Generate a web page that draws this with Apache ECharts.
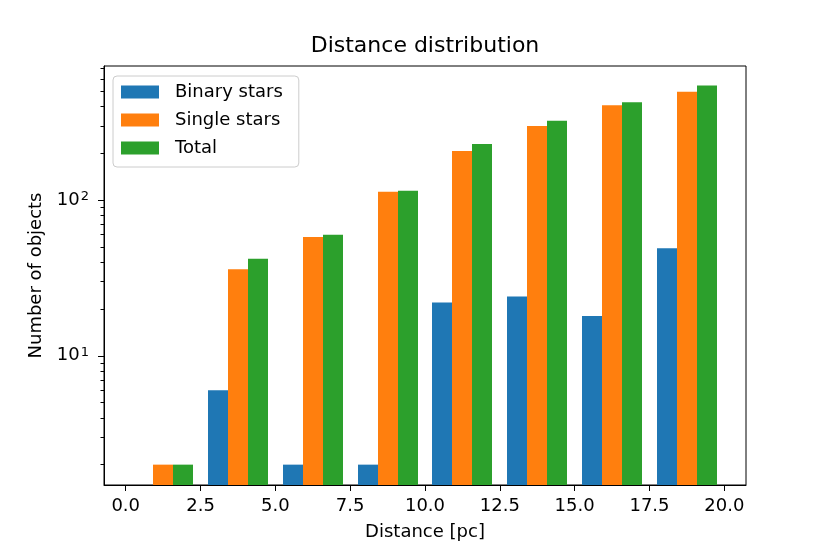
<!DOCTYPE html>
<html>
<head>
<meta charset="utf-8">
<script src="https://cdn.jsdelivr.net/npm/echarts@6/dist/echarts.min.js"></script>
<style>
  html, body { margin: 0; padding: 0; background: #fff; }
  #main { width: 830px; height: 554px; }
</style>
</head>
<body>
<div id="main"></div>
<script>
// histogram bins (start of each 2.5 pc bin)
var binStarts = [0, 2.5, 5, 7.5, 10, 12.5, 15, 17.5];
var binWidth = 2.5;

var binaryStars = [0, 6, 2, 2, 22, 24, 18, 49];
var singleStars = [2, 36, 58, 113, 207, 299, 407, 496];
var totalStars = [2, 42, 60, 115, 229, 323, 425, 545];

var seriesNames = ['Binary stars', 'Single stars', 'Total'];
var seriesColors = ['#1f77b4', '#ff7f0e', '#2ca02c'];

var xTicks = [0, 2.5, 5, 7.5, 10, 12.5, 15, 17.5, 20];
var yMajorTicks = [10, 100];
var yMinorTicks = [2, 3, 4, 5, 6, 7, 8, 9, 20, 30, 40, 50, 60, 70, 80, 90, 200, 300, 400, 500, 600, 700];

var font = 'DejaVu Sans';
var yMin = 1.48, yMax = 727;

var myChart = echarts.init(document.getElementById('main'));

function makeSeries(k, values) {
    return {
        name: seriesNames[k],
        type: 'custom',
        itemStyle: { color: seriesColors[k] },
        clip: true,
        encode: { x: 0, y: 1 },
        data: binStarts.map(function (s, i) {
            return values[i] > 0 ? [s, values[i]] : [s, '-'];
        }),
        renderItem: function (params, api) {
            var v = api.value(1);
            if (!(v > 0)) return null;
            var barW = binWidth * 0.8 / 3;
            var x0 = api.value(0) + binWidth * 0.1 + k * barW;
            var p0 = api.coord([x0, v]);
            var p1 = api.coord([x0 + barW, v]);
            var left = Math.round(p0[0]);
            var right = Math.round(p1[0]);
            var bottom = params.coordSys.y + params.coordSys.height;
            return {
                type: 'rect',
                shape: { x: left, y: p0[1], width: right - left, height: bottom - p0[1] },
                style: { fill: seriesColors[k] }
            };
        }
    };
}

var option = {
    animation: false,
    backgroundColor: '#fff',
    textStyle: { fontFamily: font },
    title: {
        text: 'Distance distribution',
        left: 425,
        textAlign: 'center',
        top: 35,
        padding: 0,
        textStyle: { fontFamily: font, fontSize: 22, fontWeight: 'normal', color: '#000' }
    },
    legend: {
        orient: 'vertical',
        left: 113,
        top: 76,
        padding: [7, 16, 10, 8],
        itemWidth: 38,
        itemHeight: 13,
        itemGap: 10,
        icon: 'rect',
        borderColor: '#cccccc',
        borderWidth: 1,
        borderRadius: 4,
        backgroundColor: 'rgba(255,255,255,0.8)',
        textStyle: { fontFamily: font, fontSize: 18, lineHeight: 18, color: '#000', padding: [0, 0, 0, 11] },
        data: seriesNames
    },
    grid: {
        left: 104, right: 84, top: 66, bottom: 69,
        show: true, borderColor: '#000', borderWidth: 1,
        containLabel: false
    },
    xAxis: {
        type: 'value',
        min: -0.725,
        max: 20.725,
        name: 'Distance [pc]',
        nameLocation: 'middle',
        nameGap: 38,
        nameTextStyle: { fontFamily: font, fontSize: 18, color: '#000', lineHeight: 18 },
        axisLine: { show: true, onZero: false, lineStyle: { color: '#000', width: 1 } },
        axisTick: { show: true, length: 6, lineStyle: { color: '#000' }, customValues: xTicks },
        axisLabel: {
            margin: 12, fontFamily: font, fontSize: 18, color: '#000',
            customValues: xTicks,
            formatter: function (v) { return v.toFixed(1); }
        },
        splitLine: { show: false }
    },
    yAxis: [{
        type: 'log',
        logBase: 10,
        min: yMin,
        max: yMax,
        name: 'Number of objects',
        nameLocation: 'middle',
        nameGap: 59,
        nameTextStyle: { fontFamily: font, fontSize: 18, color: '#000', lineHeight: 18 },
        axisLine: { show: true, onZero: false, lineStyle: { color: '#000', width: 1 } },
        axisTick: { show: true, length: 6, lineStyle: { color: '#000' }, customValues: yMajorTicks },
        axisLabel: {
            margin: 15,
            customValues: yMajorTicks,
            formatter: function (v) {
                return '{b|10}{s|' + Math.round(Math.log10(v)) + '}';
            },
            rich: {
                b: { fontFamily: font, fontSize: 18, color: '#000', lineHeight: 20 },
                s: { fontFamily: font, fontSize: 13, color: '#000', verticalAlign: 'top', lineHeight: 13, padding: [0, 0, 0, 1] }
            }
        },
        splitLine: { show: false },
        minorTick: { show: false }
    }, {
        type: 'log',
        logBase: 10,
        min: yMin,
        max: yMax,
        position: 'left',
        offset: 0,
        axisLine: { show: false, onZero: false },
        axisTick: { show: true, length: 3.5, lineStyle: { color: '#000' }, customValues: yMinorTicks },
        axisLabel: { show: false },
        splitLine: { show: false }
    }],
    series: [
        makeSeries(0, binaryStars),
        makeSeries(1, singleStars),
        makeSeries(2, totalStars)
    ]
};

myChart.setOption(option);
</script>
</body>
</html>
